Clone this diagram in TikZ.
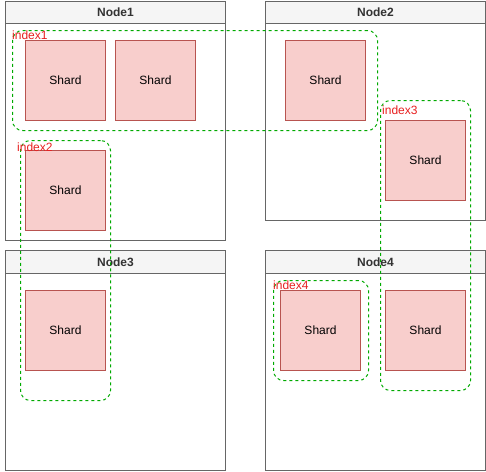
\documentclass[tikz,border=0pt]{standalone}
\usepackage{fontspec}
\setmainfont{Liberation Sans}
\definecolor{boxline}{HTML}{666666}
\definecolor{hdrfill}{HTML}{F5F5F5}
\definecolor{hdrtext}{HTML}{333333}
\definecolor{shardfill}{HTML}{F8CECC}
\definecolor{shardline}{HTML}{B85450}
\definecolor{grpline}{HTML}{00AA00}
\definecolor{grptext}{HTML}{E82020}
\begin{document}
\begin{tikzpicture}[x=1pt,y=-1pt,
  body/.style={draw=boxline, fill=white, line width=1pt, minimum width=220pt, inner sep=0pt, anchor=north west},
  hdr/.style={draw=boxline, fill=hdrfill, line width=1pt, minimum width=220pt, minimum height=23pt, inner sep=0pt, anchor=north west, text=hdrtext, font=\fontsize{12}{14}\selectfont\bfseries},
  shard/.style={draw=shardline, fill=shardfill, line width=1pt, minimum width=80pt, minimum height=80pt, inner sep=0pt, anchor=north west, font=\fontsize{12}{14}\selectfont},
  grp/.style={draw=grpline, line width=1pt, dash pattern=on 3pt off 3pt, rounded corners=10pt, inner sep=0pt, anchor=north west},
  grplabel/.style={anchor=west, inner sep=0pt, text=grptext, font=\fontsize{12}{14}\selectfont}
]
\useasboundingbox (0,0) rectangle (486,471);
% containers
\node[body, minimum height=239.5pt] (n1) at (5,0.5) {};
\node[hdr, minimum height=22.5pt] (n1h) at (5,0.5) {Node1};
\node[body, minimum height=219.5pt] (n2) at (265,0.5) {};
\node[hdr, minimum height=22.5pt] (n2h) at (265,0.5) {Node2};
\node[body, minimum height=220pt] (n3) at (5,250) {};
\node[hdr] (n3h) at (5,250) {Node3};
\node[body, minimum height=220pt] (n4) at (265,250) {};
\node[hdr] (n4h) at (265,250) {Node4};
% shards
\node[shard] (s1) at (25,40) {Shard};
\node[shard] (s2) at (115,40) {Shard};
\node[shard] (s3) at (25,150) {Shard};
\node[shard] (s4) at (285,40) {Shard};
\node[shard] (s5) at (385,120) {Shard};
\node[shard] (s6) at (25,290) {Shard};
\node[shard] (s7) at (280,290) {Shard};
\node[shard] (s8) at (385,290) {Shard};
% index groups
\node[grp, minimum width=365pt, minimum height=100pt] (g1) at (12,30) {};
\node[grp, minimum width=90pt, minimum height=260pt] (g2) at (20,140) {};
\node[grp, minimum width=90pt, minimum height=290pt] (g3) at (380,100) {};
\node[grp, minimum width=95pt, minimum height=100pt] (g4) at (273,280) {};
\node[grplabel] (l1) at (12,35) {index1};
\node[grplabel] (l2) at (17,147) {index2};
\node[grplabel] (l3) at (382,110) {index3};
\node[grplabel] (l4) at (273,285) {index4};
\end{tikzpicture}
\end{document}
